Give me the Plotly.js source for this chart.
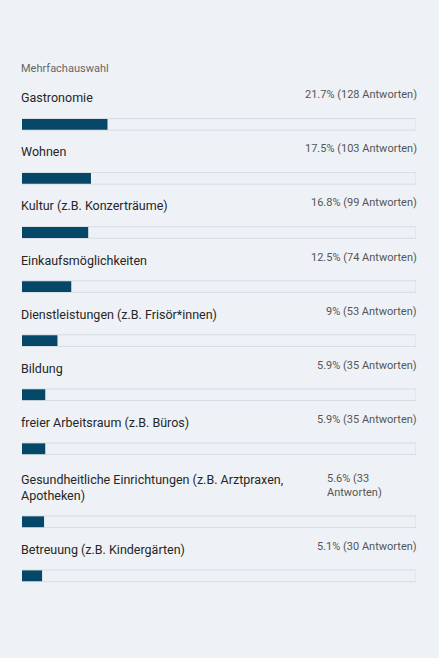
<!DOCTYPE html>
<html>
<head>
<meta charset="utf-8">
<script src="https://cdn.plot.ly/plotly-3.0.1.min.js"></script>
<style>
html,body{margin:0;padding:0;background:#eef2f6;}
#chart{width:439px;height:658px;}
</style>
</head>
<body>
<div id="chart"></div>
<script>
// Data
const categories = [
  "Gastronomie",
  "Wohnen",
  "Kultur (z.B. Konzerträume)",
  "Einkaufsmöglichkeiten",
  "Dienstleistungen (z.B. Frisör*innen)",
  "Bildung",
  "freier Arbeitsraum (z.B. Büros)",
  "Gesundheitliche Einrichtungen (z.B. Arztpraxen,<br>Apotheken)",
  "Betreuung (z.B. Kindergärten)"
];
const percents = [21.7, 17.5, 16.8, 12.5, 9, 5.9, 5.9, 5.6, 5.1];
const answers = [128, 103, 99, 74, 53, 35, 35, 33, 30];
const valueLabels = [
  "21.7% (128 Antworten)",
  "17.5% (103 Antworten)",
  "16.8% (99 Antworten)",
  "12.5% (74 Antworten)",
  "9% (53 Antworten)",
  "5.9% (35 Antworten)",
  "5.9% (35 Antworten)",
  "5.6% (33<br>Antworten)",
  "5.1% (30 Antworten)"
];
const subtitle = "Mehrfachauswahl";

// Layout helpers: row positions derived from number of label lines
const extraPerLine = 0.35;
const pos = [];
let acc = 0;
categories.forEach((c, i) => {
  const lines = Math.max(c.split("<br>").length, valueLabels[i].split("<br>").length);
  acc += (lines - 1) * extraPerLine;
  pos.push(i + acc);
});

const fontFam = "Roboto, 'Noto Sans', sans-serif";
const barColor = "#054766";

const track = {
  type: "bar", orientation: "h",
  x: categories.map(() => 100), y: pos,
  width: 0.215,
  marker: {color: "#edf1f5", line: {color: "#d6dce3", width: 1}},
  hoverinfo: "skip", showlegend: false
};
const bars = {
  type: "bar", orientation: "h",
  x: percents, y: pos,
  width: 0.2,
  marker: {color: barColor, line: {width: 0}},
  customdata: answers,
  hovertemplate: "%{x}% (%{customdata} Antworten)<extra></extra>",
  showlegend: false
};

const annotations = [];
categories.forEach((c, i) => {
  annotations.push({
    xref: "paper", yref: "y", x: 0, y: pos[i],
    xanchor: "left", yanchor: "bottom", yshift: 17, xshift: -3,
    text: c, showarrow: false, align: "left",
    font: {family: fontFam, size: 12.5, color: "#262626"}
  });
  const multi = valueLabels[i].indexOf("<br>") >= 0;
  const a = {
    xref: "x", yref: "y", x: 100, y: pos[i],
    xanchor: "right", yanchor: "bottom", yshift: 21, xshift: 3,
    text: valueLabels[i], showarrow: false,
    align: multi ? "left" : "right",
    font: {family: fontFam, size: 11, color: "#555"}
  };
  if (multi) a.width = 90;
  annotations.push(a);
});
annotations.push({
  xref: "paper", yref: "paper", x: 0, y: 1, yanchor: "middle",
  xanchor: "left", yshift: -68, xshift: -3, text: subtitle, showarrow: false,
  font: {family: fontFam, size: 11, color: "#666"}
});

const layout = {
  width: 439, height: 658,
  margin: {l: 22, r: 23, t: 0, b: 0},
  paper_bgcolor: "#eef2f6", plot_bgcolor: "#eef2f6",
  barmode: "overlay",
  xaxis: {range: [0, 100], visible: false, fixedrange: true},
  yaxis: {range: [9.87, -2.30], visible: false, fixedrange: true},
  annotations: annotations,
  font: {family: fontFam}
};

Plotly.newPlot("chart", [track, bars], layout, {displayModeBar: false});
</script>
</body>
</html>
